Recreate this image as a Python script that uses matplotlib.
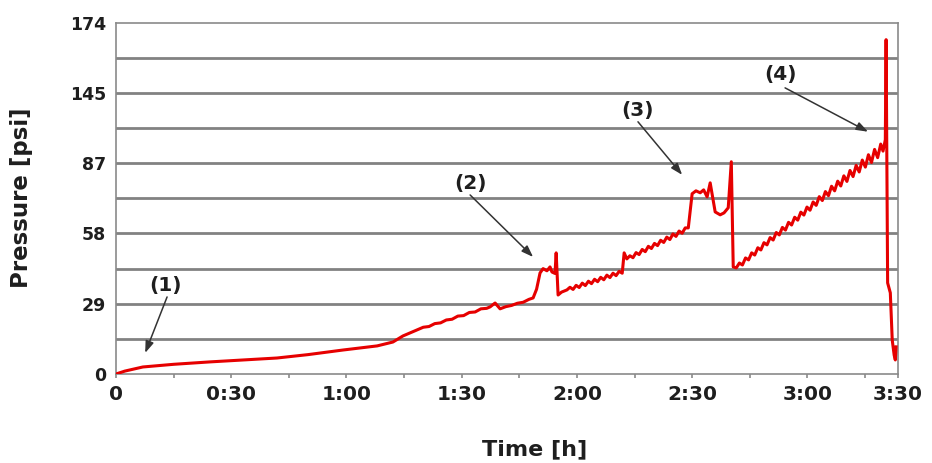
import matplotlib
matplotlib.use("Agg")
import matplotlib.pyplot as plt
from matplotlib.ticker import FixedLocator

# ---- data (time in minutes, pressure in axis units: grid label spacing = 29) ----
time_min = [0, 2.3, 7.0, 15.0, 24.5, 33.0, 41.9, 50.0, 59.1, 68.0, 72.1, 74.7,
            78.4, 80.0, 81.5, 83.0, 84.5, 86.0, 87.5, 89.0, 90.5, 92.0, 93.5, 95.0,
            96.5, 97.4, 98.7, 100.0, 101.5, 103.0, 104.5, 106.0, 107.5, 108.6,
            109.5, 110.4, 111.2, 112.2, 113.0, 113.5, 114.3, 114.6, 115.1, 116.0,
            117.4, 118.2, 119.0, 119.8, 120.6, 121.4, 122.2, 123.0, 123.8, 124.6,
            125.4, 126.2, 127.0, 127.8, 128.6, 129.4, 130.2, 131.0, 131.8,
            132.3, 133.0, 133.8, 134.6, 135.4, 136.2, 137.0, 137.8, 138.6, 139.4,
            140.2, 141.0, 141.8, 142.6, 143.4, 144.2, 145.0, 145.8, 146.6, 147.4,
            148.2, 149.0,
            150.0, 151.0, 152.1, 153.0, 153.9, 154.7, 156.0, 157.3, 158.3,
            159.4, 160.2, 160.7,
            161.5, 162.3, 163.1, 163.9, 164.7, 165.5, 166.3, 167.1, 167.9, 168.7,
            169.5, 170.3, 171.1, 171.9, 172.7, 173.5, 174.3, 175.1, 175.9, 176.7,
            177.5, 178.3, 179.1, 179.9, 180.7, 181.5, 182.3, 183.1, 183.9, 184.7,
            185.5, 186.3, 187.1, 187.9, 188.7, 189.5, 190.3, 191.1, 191.9, 192.7,
            193.5, 194.3, 195.1, 195.9, 196.7, 197.5, 198.3, 199.1, 199.7,
            200.3, 200.5, 200.9, 201.6, 202.1, 202.6, 202.9, 203.1]
pressure = [0, 1.2, 2.9, 4.0, 5.0, 5.8, 6.6, 8.0, 9.9, 11.6, 13.2, 15.7,
            18.2, 19.3, 19.6, 20.8, 21.1, 22.3, 22.6, 23.9, 24.1, 25.4, 25.6, 26.9,
            27.1, 27.7, 29.3, 26.9, 27.8, 28.3, 29.2, 29.6, 30.8, 31.4,
            35.0, 41.7, 43.5, 42.6, 44.2, 42.1, 41.5, 50.0, 32.6, 33.8,
            34.7, 35.8, 34.9, 36.6, 35.7, 37.5, 36.5, 38.3, 37.3, 39.1,
            38.1, 39.9, 38.9, 40.8, 39.8, 41.6, 40.6, 42.4, 41.6,
            50.0, 47.5, 48.8, 48.0, 50.1, 49.3, 51.4, 50.5, 52.7, 51.8,
            53.9, 53.0, 55.2, 54.3, 56.5, 55.5, 57.8, 56.8, 59.0, 58.1,
            60.3, 60.3,
            74.4, 75.6, 74.8, 76.0, 73.1, 78.9, 66.9, 65.7, 66.5,
            68.6, 87.6, 44.2,
            43.8, 45.8, 45.0, 47.9, 47.1, 50.0, 49.1, 52.1, 51.2, 54.2,
            53.3, 56.3, 55.3, 58.4, 57.4, 60.5, 59.4, 62.6, 61.5, 64.7,
            63.5, 66.8, 65.6, 68.9, 67.6, 71.0, 69.6, 73.2, 71.6, 75.3,
            73.6, 77.5, 75.6, 79.6, 77.6, 81.8, 79.5, 84.0, 81.5, 86.1,
            83.4, 88.3, 85.4, 90.5, 87.3, 92.7, 89.3, 94.9, 92.0,
            96.7, 138.0, 37.6, 33.5, 14.0, 7.8, 5.8, 11.2]

y_tick_pos = [0, 29, 58, 87, 116, 145]
y_tick_labels = ["0", "29", "58", "87", "145", "174"]
x_tick_pos = [0, 30, 60, 90, 120, 150, 180, 203.6]
x_tick_labels = ["0", "0:30", "1:00", "1:30", "2:00", "2:30", "3:00", "3:30"]
x_minor_pos = [15, 45, 75, 105, 135, 165, 195]

annot_labels = ["(1)", "(2)", "(3)", "(4)"]
annot_text_xy = [(13.0, 36.4), (92.2, 78.5), (135.9, 108.6), (172.9, 123.5)]
annot_start_xy = [(13.3, 31.8), (92.2, 73.9), (135.9, 104.1), (174.2, 118.1)]
annot_tip_xy = [(7.6, 8.7), (108.6, 48.3), (147.4, 82.2), (195.8, 100.0)]

# ---- figure ----
fig = plt.figure(figsize=(9.32, 4.63), dpi=100)
ax = fig.add_axes([116 / 932, 1 - 374 / 463, (898 - 116) / 932, (374 - 22.7) / 463])

ax.set_xlim(0, 203.6)
ax.set_ylim(0, 145)

grid_color = "#828282"
# horizontal grid every half label step
for yv in [14.5 * k for k in range(1, 10)]:
    ax.axhline(yv, color=grid_color, lw=2.0, zorder=1)

ax.plot(time_min, pressure, color="#e60000", lw=2.2, zorder=3, solid_joinstyle="round")

for sp in ax.spines.values():
    sp.set_color("#8a8a8a")
    sp.set_linewidth(1.2)

ax.yaxis.set_major_locator(FixedLocator(y_tick_pos))
ax.set_yticklabels(y_tick_labels, fontsize=12.5, fontweight="bold", color="#1e1e1e")
ax.tick_params(axis="y", length=0, pad=7)

ax.xaxis.set_major_locator(FixedLocator(x_tick_pos))
ax.xaxis.set_minor_locator(FixedLocator(x_minor_pos))
ax.set_xticklabels(x_tick_labels, fontsize=14.5, fontweight="bold", color="#1e1e1e")
ax.tick_params(axis="x", which="both", direction="out", length=3, width=1.2,
               color="#8a8a8a", pad=5)

fig.text(22 / 932, 1 - 198 / 463, "Pressure [psi]", rotation=90, ha="center", va="center",
         fontsize=16.5, fontweight="bold", color="#1e1e1e")
fig.text(535 / 932, 1 - 449 / 463, "Time [h]", ha="center", va="center",
         fontsize=16, fontweight="bold", color="#1e1e1e")

for lab, txy, sxy, txy2 in zip(annot_labels, annot_text_xy, annot_start_xy, annot_tip_xy):
    ax.text(txy[0], txy[1], lab, ha="center", va="center", fontsize=14.5,
            fontweight="bold", color="#1e1e1e", zorder=5)
    ax.annotate("", xy=txy2, xytext=sxy,
                arrowprops=dict(arrowstyle="-|>,head_length=0.7,head_width=0.25",
                                color="#333333", lw=1.1, shrinkA=0, shrinkB=0),
                zorder=5)

fig.savefig("out.png", dpi=100)
